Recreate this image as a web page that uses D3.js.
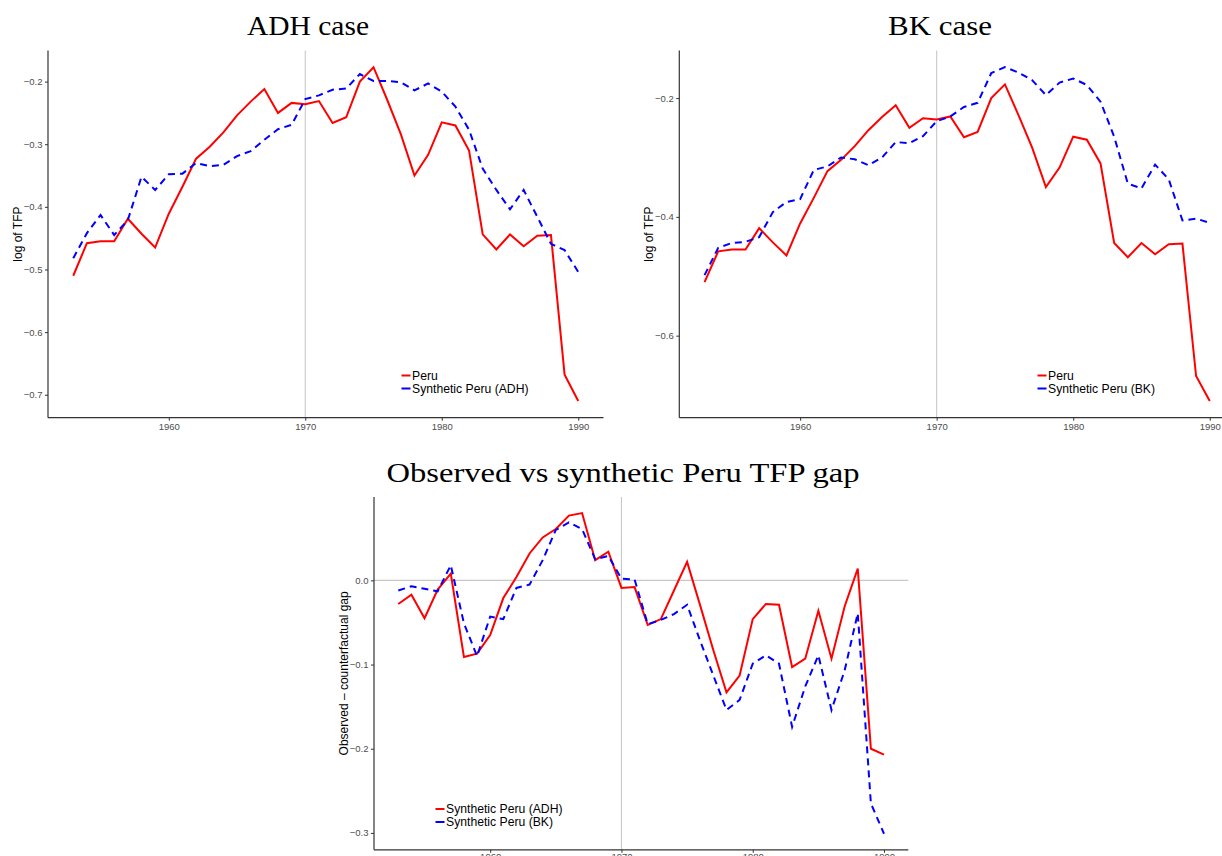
<!DOCTYPE html>
<html>
<head>
<meta charset="utf-8">
<script src="https://cdn.jsdelivr.net/npm/d3@7"></script>
<style>
  html, body { margin: 0; padding: 0; background: #ffffff; }
  svg { display: block; }
  .tick text { font-family: "Liberation Sans", Arial, sans-serif; fill: #4d4d4d; }
</style>
</head>
<body>
<svg id="chart" width="1222" height="856"></svg>
<script>
// ---------------- data ----------------
const years = [1953,1954,1955,1956,1957,1958,1959,1960,1961,1962,1963,1964,1965,1966,1967,1968,1969,1970,1971,1972,
               1973,1974,1975,1976,1977,1978,1979,1980,1981,1982,1983,1984,1985,1986,1987,1988,1989,1990];

const peru = [-0.510,-0.458,-0.455,-0.455,-0.419,-0.443,-0.465,-0.411,-0.368,-0.323,-0.304,-0.281,-0.254,-0.232,-0.212,-0.250,-0.234,-0.236,-0.231,-0.266,
              -0.257,-0.200,-0.177,-0.229,-0.284,-0.350,-0.317,-0.265,-0.270,-0.310,-0.444,-0.468,-0.444,-0.463,-0.446,-0.445,-0.668,-0.710];

const synthADH = [-0.482,-0.442,-0.413,-0.445,-0.421,-0.352,-0.373,-0.348,-0.347,-0.330,-0.335,-0.333,-0.319,-0.311,-0.293,-0.276,-0.269,-0.228,-0.222,-0.213,
                  -0.211,-0.188,-0.199,-0.199,-0.201,-0.214,-0.203,-0.216,-0.240,-0.277,-0.339,-0.373,-0.404,-0.373,-0.416,-0.459,-0.469,-0.504];

const synthBK = [-0.498,-0.452,-0.444,-0.442,-0.434,-0.392,-0.375,-0.370,-0.321,-0.315,-0.300,-0.303,-0.313,-0.300,-0.274,-0.276,-0.264,-0.239,-0.231,-0.215,
                 -0.208,-0.158,-0.148,-0.157,-0.170,-0.195,-0.174,-0.167,-0.178,-0.206,-0.265,-0.344,-0.352,-0.312,-0.337,-0.406,-0.403,-0.410];

const gapADH = [-0.028,-0.017,-0.045,-0.011,0.008,-0.091,-0.087,-0.065,-0.021,0.004,0.032,0.051,0.061,0.077,0.080,0.024,0.034,-0.009,-0.008,-0.053,
                -0.046,-0.012,0.022,-0.030,-0.083,-0.133,-0.113,-0.046,-0.028,-0.029,-0.103,-0.093,-0.036,-0.093,-0.031,0.014,-0.200,-0.207];

const gapBK = [-0.012,-0.007,-0.010,-0.013,0.018,-0.051,-0.090,-0.043,-0.046,-0.009,-0.005,0.024,0.060,0.069,0.061,0.025,0.029,0.002,0.001,-0.052,
               -0.047,-0.040,-0.029,-0.072,-0.113,-0.154,-0.142,-0.099,-0.089,-0.099,-0.174,-0.126,-0.089,-0.154,-0.107,-0.039,-0.265,-0.301];

const xTicks = [1960, 1970, 1980, 1990];
const ticksADH = [-0.2, -0.3, -0.4, -0.5, -0.6, -0.7];
const ticksBK = [-0.2, -0.4, -0.6];
const ticksGap = [0.0, -0.1, -0.2, -0.3];
const treatmentYear = 1970;

const titles = ["ADH case", "BK case", "Observed vs synthetic Peru TFP gap"];
const yTitles = ["log of TFP", "log of TFP", "Observed \u2013 counterfactual gap"];
const legendADH = ["Peru", "Synthetic Peru (ADH)"];
const legendBK = ["Peru", "Synthetic Peru (BK)"];
const legendGap = ["Synthetic Peru (ADH)", "Synthetic Peru (BK)"];

// ---------------- drawing ----------------
const svg = d3.select("#chart");
const RED = "#ff0000", BLUE = "#0000ff";
const SANS = "'Liberation Sans', Arial, sans-serif";
const SERIF = "'Liberation Serif', 'Times New Roman', serif";

function expanded(values) {
  const [lo, hi] = d3.extent(values);
  const pad = (hi - lo) * 0.05;
  return [lo - pad, hi + pad];
}

function panel(cfg) {
  const x = d3.scaleLinear().domain(expanded(years)).range([cfg.left, cfg.right]);
  const y = d3.scaleLinear().domain(expanded(cfg.series.flat())).range([cfg.bottom, cfg.top]);

  const g = svg.append("g");

  // reference lines
  g.append("line")
    .attr("x1", x(treatmentYear)).attr("x2", x(treatmentYear))
    .attr("y1", cfg.top).attr("y2", cfg.bottom)
    .attr("stroke", "#c8c8c8").attr("stroke-width", 1.1);
  if (cfg.zeroLine) {
    g.append("line")
      .attr("x1", cfg.left).attr("x2", cfg.right)
      .attr("y1", y(0)).attr("y2", y(0))
      .attr("stroke", "#c8c8c8").attr("stroke-width", 1.1);
  }

  const line = d3.line().x((d, i) => x(years[i])).y(d => y(d));
  cfg.series.forEach((s, k) => {
    g.append("path")
      .datum(s)
      .attr("fill", "none")
      .attr("stroke", cfg.colors[k])
      .attr("stroke-width", 2)
      .attr("stroke-linejoin", "miter")
      .attr("stroke-dasharray", cfg.dashes[k])
      .attr("d", line);
  });

  // axes
  const xa = g.append("g").attr("transform", `translate(0,${cfg.bottom})`)
    .call(d3.axisBottom(x).tickValues(xTicks).tickFormat(d3.format("d")).tickSize(3).tickPadding(cfg.xPad));
  const ya = g.append("g").attr("transform", `translate(${cfg.left},0)`)
    .call(d3.axisLeft(y).tickValues(cfg.yTicks).tickFormat(d3.format(".1f")).tickSize(3).tickPadding(2.5));
  [xa, ya].forEach(a => {
    a.select(".domain").attr("stroke", "#333333").attr("stroke-width", 1.2);
    a.selectAll(".tick line").attr("stroke", "#333333").attr("stroke-width", 1);
    a.selectAll(".tick text").attr("font-size", 9.5).attr("fill", "#4d4d4d");
  });
  ya.select(".domain").attr("d", `M0,${cfg.bottom}V${cfg.top}`);
  xa.select(".domain").attr("d", `M${cfg.left},0H${cfg.right}`);

  // titles
  svg.append("text")
    .attr("x", cfg.titleX).attr("y", cfg.titleY)
    .attr("text-anchor", "middle")
    .attr("font-family", SERIF).attr("font-size", 28).attr("fill", "#000")
    .attr("textLength", cfg.titleW).attr("lengthAdjust", "spacingAndGlyphs")
    .text(cfg.title);

  svg.append("text")
    .attr("transform", `translate(${cfg.yTitleX},${(cfg.top + cfg.bottom) / 2}) rotate(-90)`)
    .attr("text-anchor", "middle")
    .attr("font-family", SANS).attr("font-size", 12).attr("fill", "#000")
    .text(cfg.yTitle);

  // legend
  const lg = svg.append("g").attr("transform", `translate(${cfg.legendX},${cfg.legendY})`);
  cfg.legend.forEach((lab, k) => {
    const row = lg.append("g").attr("transform", `translate(0,${k * 13})`);
    row.append("line")
      .attr("x1", 0).attr("x2", 9).attr("y1", 0).attr("y2", 0)
      .attr("stroke", cfg.legendColors[k]).attr("stroke-width", 2);
    row.append("text")
      .attr("x", 10.5).attr("y", 0).attr("dy", "0.35em")
      .attr("font-family", SANS).attr("font-size", 12.2).attr("fill", "#000")
      .text(lab);
  });
}

panel({
  left: 48, right: 603.5, top: 50.5, bottom: 417.7, xPad: 2.5,
  series: [peru, synthADH], colors: [RED, BLUE], dashes: [null, "7,5"],
  yTicks: ticksADH, title: titles[0], titleX: 308, titleY: 35, titleW: 122,
  yTitle: yTitles[0], yTitleX: 22,
  legend: legendADH, legendColors: [RED, BLUE], legendX: 401.5, legendY: 375.5
});

panel({
  left: 679.3, right: 1235, top: 50.5, bottom: 417.7, xPad: 2.5,
  series: [peru, synthBK], colors: [RED, BLUE], dashes: [null, "7,5"],
  yTicks: ticksBK, title: titles[1], titleX: 940, titleY: 35, titleW: 104,
  yTitle: yTitles[1], yTitleX: 653,
  legend: legendBK, legendColors: [RED, BLUE], legendX: 1037.5, legendY: 375.5
});

panel({
  left: 374, right: 908.3, top: 497, bottom: 849.8, xPad: 0.5,
  series: [gapADH, gapBK], colors: [RED, BLUE], dashes: [null, "7,5"], zeroLine: true,
  yTicks: ticksGap, title: titles[2], titleX: 623, titleY: 482, titleW: 473,
  yTitle: yTitles[2], yTitleX: 348,
  legend: legendGap, legendColors: [RED, BLUE], legendX: 435.5, legendY: 809
});
</script>
</body>
</html>
